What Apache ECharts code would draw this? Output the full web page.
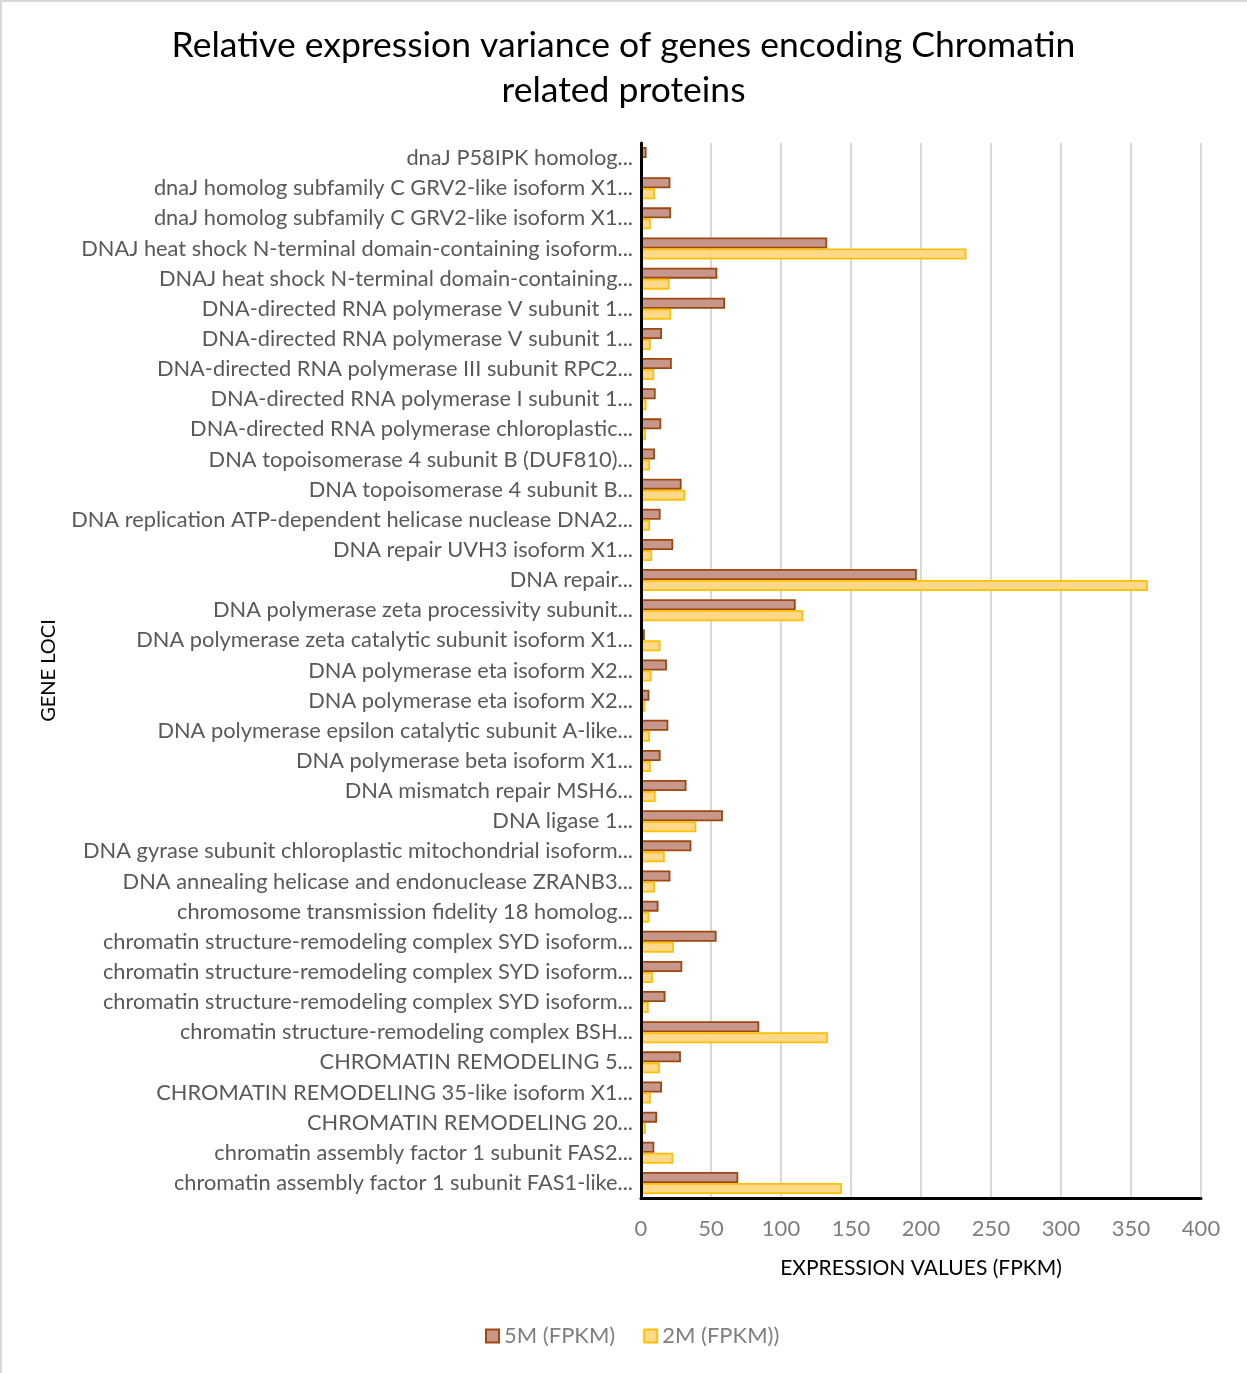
<!DOCTYPE html>
<html>
<head>
<meta charset="utf-8">
<title>Chromatin related proteins expression</title>
<script src="https://cdn.jsdelivr.net/npm/echarts@6/dist/echarts.min.js"></script>
<style>
  html, body { margin: 0; padding: 0; background: #fff; }
  #chart { width: 1247px; height: 1373px; }
</style>
</head>
<body>
<div id="chart"></div>
<script>
// Gene loci, listed top to bottom as drawn
const geneLoci = [
  'dnaJ P58IPK homolog...',
  'dnaJ homolog subfamily C GRV2-like isoform X1...',
  'dnaJ homolog subfamily C GRV2-like isoform X1...',
  'DNAJ heat shock N-terminal domain-containing isoform...',
  'DNAJ heat shock N-terminal domain-containing...',
  'DNA-directed RNA polymerase V subunit 1...',
  'DNA-directed RNA polymerase V subunit 1...',
  'DNA-directed RNA polymerase III subunit RPC2...',
  'DNA-directed RNA polymerase I subunit 1...',
  'DNA-directed RNA polymerase chloroplastic...',
  'DNA topoisomerase 4 subunit B (DUF810)...',
  'DNA topoisomerase 4 subunit B...',
  'DNA replication ATP-dependent helicase nuclease DNA2...',
  'DNA repair UVH3 isoform X1...',
  'DNA repair...',
  'DNA polymerase zeta processivity subunit...',
  'DNA polymerase zeta catalytic subunit isoform X1...',
  'DNA polymerase eta isoform X2...',
  'DNA polymerase eta isoform X2...',
  'DNA polymerase epsilon catalytic subunit A-like...',
  'DNA polymerase beta isoform X1...',
  'DNA mismatch repair MSH6...',
  'DNA ligase 1...',
  'DNA gyrase subunit chloroplastic mitochondrial isoform...',
  'DNA annealing helicase and endonuclease ZRANB3...',
  'chromosome transmission fidelity 18 homolog...',
  'chromatin structure-remodeling complex SYD isoform...',
  'chromatin structure-remodeling complex SYD isoform...',
  'chromatin structure-remodeling complex SYD isoform...',
  'chromatin structure-remodeling complex BSH...',
  'CHROMATIN REMODELING 5...',
  'CHROMATIN REMODELING 35-like isoform X1...',
  'CHROMATIN REMODELING 20...',
  'chromatin assembly factor 1 subunit FAS2...',
  'chromatin assembly factor 1 subunit FAS1-like...'
];

// Expression values (FPKM), same order as geneLoci
const fpkm5M = [
  4, 21, 21.5, 133, 54.5, 60, 15, 22, 10.5,
  14.5, 10, 29, 14, 23, 197, 110.5, 2.7, 18.5,
  6, 19.5, 14, 32.5, 58.5, 36, 21, 12.5,
  54, 29.5, 17.5, 84.5, 28.5, 15, 11.5, 9.5, 69.5
];
const fpkm2M = [
  1.5, 10, 7, 232.5, 20.5, 21.5, 7, 9.5, 4,
  3.5, 6.5, 31.5, 6.5, 8, 362, 116, 14, 7.5,
  3, 6.5, 7, 10.5, 39.5, 17, 10, 6,
  23.5, 8.5, 5.5, 133.5, 13.5, 7, 3.5, 23, 143.5
];

// Value axis ticks
const valueTicks = [0, 50, 100, 150, 200, 250, 300, 350, 400];

const seriesNames = ['5M (FPKM)', '2M (FPKM))'];

const font = 'Lato, "Open Sans", sans-serif';

const chart = echarts.init(document.getElementById('chart'), null, { renderer: 'canvas' });

chart.setOption({
  backgroundColor: '#ffffff',
  animation: false,
  title: {
    text: 'Relative expression variance of genes encoding Chromatin\nrelated proteins',
    left: 'center',
    top: 18,
    textStyle: {
      fontFamily: font,
      fontWeight: 'normal',
      fontSize: 35.5,
      lineHeight: 45,
      color: '#000000'
    }
  },
  legend: {
    data: seriesNames,
    bottom: 21,
    left: 480,
    icon: 'rect',
    itemWidth: 13,
    itemHeight: 13,
    itemGap: 28,
    itemStyle: { borderWidth: 2 },
    textStyle: { fontFamily: font, fontSize: 22, color: '#7f7f7f' }
  },
  grid: {
    left: 641,
    right: 46,
    top: 143,
    bottom: 175,
    containLabel: false
  },
  xAxis: {
    type: 'value',
    min: valueTicks[0],
    max: valueTicks[valueTicks.length - 1],
    interval: valueTicks[1] - valueTicks[0],
    name: 'EXPRESSION VALUES (FPKM)',
    nameLocation: 'middle',
    nameGap: 60,
    nameTextStyle: { fontFamily: font, fontSize: 21, color: '#000000' },
    axisLine: { show: true, lineStyle: { color: '#000000', width: 3 } },
    axisTick: { show: false },
    axisLabel: { fontFamily: font, fontSize: 22, color: '#7f7f7f', margin: 20 },
    splitLine: { show: true, lineStyle: { color: '#d9d9d9', width: 2 } }
  },
  yAxis: {
    type: 'category',
    data: geneLoci,
    inverse: true,
    name: 'GENE LOCI',
    nameLocation: 'middle',
    nameRotate: 90,
    nameGap: 582,
    nameTextStyle: { fontFamily: font, fontSize: 20, color: '#000000' },
    axisLine: { show: true, lineStyle: { color: '#000000', width: 3 } },
    axisTick: { show: false },
    axisLabel: { fontFamily: font, fontSize: 21.8, color: '#595959', margin: 8, interval: 0 },
    splitLine: { show: false },
    z: 5
  },
  series: [
    {
      name: seriesNames[0],
      type: 'bar',
      data: fpkm5M,
      barWidth: 11,
      barGap: '0%',
      itemStyle: { color: '#c8978c', borderColor: '#9e480e', borderWidth: 1.8 }
    },
    {
      name: seriesNames[1],
      type: 'bar',
      data: fpkm2M,
      barWidth: 11,
      barGap: '0%',
      itemStyle: { color: '#ffd88c', borderColor: '#ffc000', borderWidth: 1.8 }
    }
  ],
  graphic: [
    {
      type: 'rect',
      left: 0, top: 0,
      shape: { width: 1247, height: 2 },
      style: { fill: '#d9d9d9' },
      silent: true
    },
    {
      type: 'rect',
      left: 0, top: 0,
      shape: { width: 2, height: 1373 },
      style: { fill: '#d9d9d9' },
      silent: true
    }
  ]
});
</script>
</body>
</html>
